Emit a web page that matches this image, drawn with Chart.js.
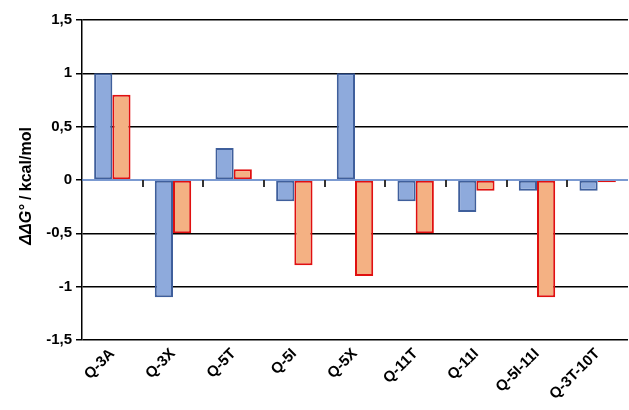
<!DOCTYPE html>
<html>
<head>
<meta charset="utf-8">
<script src="https://cdn.jsdelivr.net/npm/chart.js@4/dist/chart.umd.min.js"></script>
<style>
  html, body { margin: 0; padding: 0; background: #fff; }
  #wrap { width: 629px; height: 410px; position: relative; }
</style>
</head>
<body>
<div id="wrap"><canvas id="c"></canvas></div>
<script>
// Mutants and their free-energy changes (kcal/mol)
const mutants = ['Q-3A', 'Q-3X', 'Q-5T', 'Q-5I', 'Q-5X', 'Q-11T', 'Q-11I', 'Q-5I-11I', 'Q-3T-10T'];
const seriesA = [1.0, -1.1, 0.3, -0.2, 1.0, -0.2, -0.3, -0.1, -0.1];
const seriesB = [0.8, -0.5, 0.1, -0.8, -0.9, -0.5, -0.1, -1.1, -0.02];
const yTicks = [-1.5, -1, -0.5, 0, 0.5, 1, 1.5];

const FONT = '"Liberation Sans", Arial, sans-serif';

// Zero baseline with category separators, plus the y-axis title
const zeroAxis = {
  id: 'zeroAxis',
  afterDatasetsDraw(chart) {
    const { ctx, chartArea } = chart;
    const y = chart.scales.y;
    const y0 = y.getPixelForValue(0);
    ctx.save();
    ctx.strokeStyle = '#4f78c2';
    ctx.lineWidth = 1.5;
    ctx.beginPath();
    ctx.moveTo(chartArea.left, y0);
    ctx.lineTo(chartArea.right, y0);
    ctx.stroke();
    ctx.strokeStyle = '#333';
    ctx.lineWidth = 2;
    const n = mutants.length;
    const step = (chartArea.right - chartArea.left) / n;
    for (let i = 1; i < n; i++) {
      const px = Math.round(chartArea.left + step * i);
      ctx.beginPath();
      ctx.moveTo(px, y0);
      ctx.lineTo(px, y0 + 7);
      ctx.stroke();
    }
    ctx.restore();
  },
  afterDraw(chart) {
    const { ctx, chartArea } = chart;
    ctx.save();
    const cy = (chartArea.top + chartArea.bottom) / 2 + 6;
    ctx.translate(27, cy);
    ctx.rotate(-Math.PI / 2);
    ctx.fillStyle = '#000';
    ctx.textBaseline = 'middle';
    const p1 = 'ΔΔG°';
    const p2 = ' / kcal/mol';
    ctx.font = 'italic bold 16px ' + FONT;
    const w1 = ctx.measureText(p1).width;
    ctx.font = 'bold 16px ' + FONT;
    const w2 = ctx.measureText(p2).width;
    const sx = -(w1 + w2) / 2;
    ctx.font = 'italic bold 16px ' + FONT;
    ctx.fillText(p1, sx, 0);
    ctx.font = 'bold 16px ' + FONT;
    ctx.fillText(p2, sx + w1, 0);
    ctx.restore();
  }
};

new Chart(document.getElementById('c'), {
  type: 'bar',
  data: {
    labels: mutants,
    datasets: [
      {
        data: seriesA,
        backgroundColor: '#8eaadc',
        borderColor: '#3f5f9c',
        borderWidth: 2,
        borderSkipped: false
      },
      {
        data: seriesB,
        backgroundColor: '#f4b183',
        borderColor: '#e01010',
        borderWidth: 2,
        borderSkipped: false
      }
    ]
  },
  options: {
    responsive: true,
    maintainAspectRatio: false,
    animation: false,
    layout: { padding: { left: 0, top: 20, right: 1, bottom: 0 } },
    plugins: { legend: { display: false }, tooltip: { enabled: false } },
    datasets: { bar: { categoryPercentage: 0.6, barPercentage: 1.0 } },
    scales: {
      x: {
        afterFit(scale) { scale.height = 70; },
        grid: { display: false, drawTicks: false },
        border: { display: false },
        ticks: {
          color: '#000',
          font: { family: FONT, size: 15, weight: 'bold' },
          maxRotation: 45,
          minRotation: 45,
          padding: 5
        }
      },
      y: {
        min: -1.5,
        max: 1.5,
        afterFit(scale) { scale.width = 82; },
        afterBuildTicks(scale) { scale.ticks = yTicks.map(v => ({ value: v })); },
        grid: {
          color: (c) => c.tick && c.tick.value === 0 ? 'rgba(0,0,0,0)' : '#000',
          lineWidth: 1.5,
          drawTicks: true,
          tickLength: 6,
          tickColor: '#000'
        },
        border: { display: true, color: '#000', width: 1.5 },
        ticks: {
          color: '#000',
          font: { family: FONT, size: 15, weight: 'bold' },
          padding: 4,
          callback: (v) => String(v).replace('.', ',')
        }
      }
    }
  },
  plugins: [zeroAxis]
});
</script>
</body>
</html>
